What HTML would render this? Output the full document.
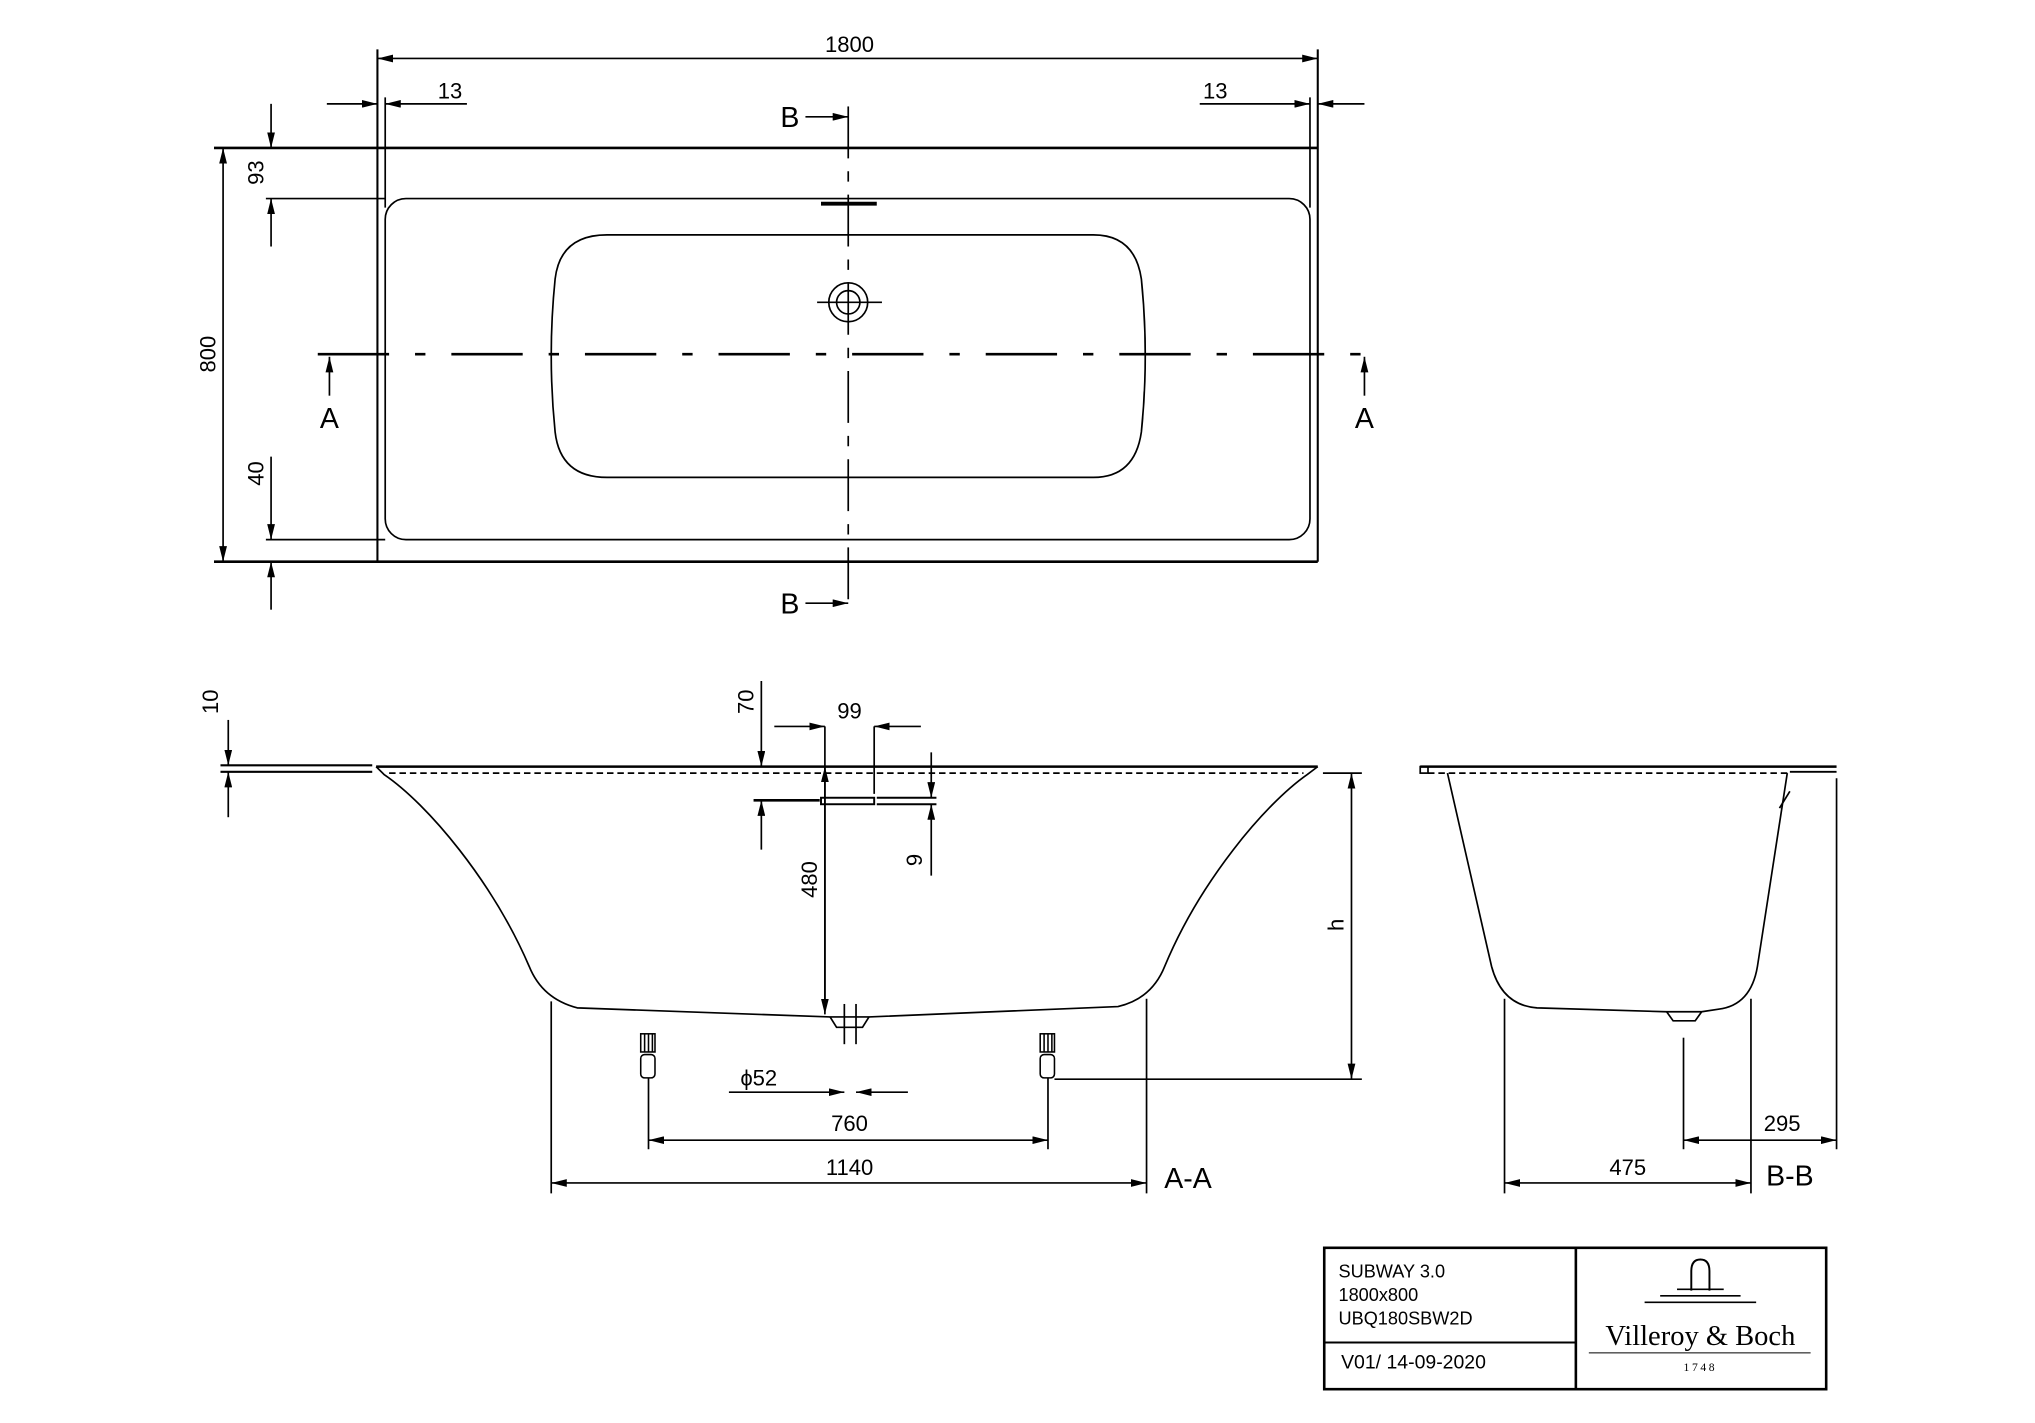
<!DOCTYPE html>
<html><head><meta charset="utf-8"><style>html,body{margin:0;padding:0;background:#fff}svg{display:block}</style></head><body>
<svg width="2035" height="1423" viewBox="0 0 1569 1097" xmlns="http://www.w3.org/2000/svg" font-family="Liberation Sans, sans-serif">
<defs>
<marker id="a" viewBox="0 0 12 6" refX="12" refY="3" markerWidth="12" markerHeight="6" orient="auto-start-reverse" markerUnits="userSpaceOnUse"><path d="M0,0 L12,3 L0,6 Z" fill="#000"/></marker>
</defs>
<g stroke="#000" fill="none" stroke-width="1.3">
<line x1="165" y1="114" x2="1016" y2="114" stroke-width="2"/>
<line x1="165" y1="433" x2="1016" y2="433" stroke-width="2"/>
<line x1="291" y1="38" x2="291" y2="433" stroke-width="1.6"/>
<line x1="1016" y1="38" x2="1016" y2="433" stroke-width="1.6"/>
<line x1="297" y1="75" x2="297" y2="160"/>
<line x1="1010" y1="75" x2="1010" y2="160"/>
<rect x="297" y="153" width="713" height="263" rx="16"/>
<path d="M468,181 L843,181 Q875,181 880,215 Q886,274 880,333 Q875,368 843,368 L468,368 Q432,368 428,333 Q422,274 428,215 Q432,181 468,181 Z"/>
<line x1="245" y1="273" x2="1065" y2="273" stroke-width="2" stroke-dasharray="55,20,8,20"/>
<line x1="654" y1="82" x2="654" y2="472" stroke-dasharray="40,10,8,10"/>
<line x1="633" y1="157" x2="676" y2="157" stroke-width="3"/>
<circle cx="654" cy="233" r="15"/><circle cx="654" cy="233" r="9"/>
<line x1="630" y1="233" x2="680" y2="233"/>
<line x1="291" y1="45" x2="1016" y2="45" marker-start="url(#a)" marker-end="url(#a)"/>
<line x1="252" y1="80" x2="291" y2="80" marker-end="url(#a)"/>
<line x1="360" y1="80" x2="297" y2="80" marker-end="url(#a)"/>
<line x1="925" y1="80" x2="1010" y2="80" marker-end="url(#a)"/>
<line x1="1052" y1="80" x2="1016" y2="80" marker-end="url(#a)"/>
<line x1="172" y1="114" x2="172" y2="433" marker-start="url(#a)" marker-end="url(#a)"/>
<line x1="209" y1="80" x2="209" y2="114" marker-end="url(#a)"/>
<line x1="209" y1="190" x2="209" y2="153" marker-end="url(#a)"/>
<line x1="205" y1="153" x2="297" y2="153"/>
<line x1="209" y1="352" x2="209" y2="416" marker-end="url(#a)"/>
<line x1="209" y1="470" x2="209" y2="433" marker-end="url(#a)"/>
<line x1="205" y1="416" x2="297" y2="416"/>
<line x1="254" y1="305" x2="254" y2="275" marker-end="url(#a)"/>
<line x1="1052" y1="305" x2="1052" y2="275" marker-end="url(#a)"/>
<line x1="621" y1="90" x2="654" y2="90" marker-end="url(#a)"/>
<line x1="621" y1="465" x2="654" y2="465" marker-end="url(#a)"/>
<line x1="170" y1="590" x2="287" y2="590" stroke-width="1.6"/>
<line x1="170" y1="595" x2="287" y2="595" stroke-width="1.6"/>
<line x1="290" y1="591" x2="1016" y2="591" stroke-width="2"/>
<line x1="300" y1="596" x2="1005" y2="596" stroke-dasharray="5,3"/>
<path d="M290,591 L296,597 C330,620 380,680 408,745 Q418,770 445,777 L640,784 L670,784 L862,776 Q888,770 898,745 C925,680 975,620 1008,597 L1016,591"/>
<path d="M640,784 L645,792 L665,792 L670,784"/>
<line x1="651" y1="774" x2="651" y2="805"/><line x1="660" y1="774" x2="660" y2="805"/>
<g stroke-width="1.2">
<rect x="494" y="797" width="11" height="14"/><rect x="494" y="813" width="11" height="18" rx="3"/>
<line x1="497" y1="797" x2="497" y2="811"/><line x1="500" y1="797" x2="500" y2="811"/><line x1="503" y1="797" x2="503" y2="811"/>
<rect x="802" y="797" width="11" height="14"/><rect x="802" y="813" width="11" height="18" rx="3"/>
<line x1="805" y1="797" x2="805" y2="811"/><line x1="808" y1="797" x2="808" y2="811"/><line x1="811" y1="797" x2="811" y2="811"/>
</g>
<line x1="176" y1="555" x2="176" y2="590" marker-end="url(#a)"/>
<line x1="176" y1="630" x2="176" y2="595" marker-end="url(#a)"/>
<line x1="587" y1="525" x2="587" y2="591" marker-end="url(#a)"/>
<line x1="587" y1="655" x2="587" y2="617" marker-end="url(#a)"/>
<line x1="581" y1="617" x2="632" y2="617" stroke-width="2"/>
<rect x="633" y="615" width="41" height="5" stroke-width="1.5"/>
<line x1="676" y1="615" x2="722" y2="615" stroke-width="1.5"/><line x1="676" y1="620" x2="722" y2="620" stroke-width="1.5"/>
<line x1="636" y1="560" x2="636" y2="778"/>
<line x1="636" y1="591" x2="636" y2="782" marker-start="url(#a)" marker-end="url(#a)"/>
<line x1="674" y1="560" x2="674" y2="612"/>
<line x1="597" y1="560" x2="636" y2="560" marker-end="url(#a)"/>
<line x1="710" y1="560" x2="674" y2="560" marker-end="url(#a)"/>
<line x1="718" y1="580" x2="718" y2="615" marker-end="url(#a)"/>
<line x1="718" y1="675" x2="718" y2="620" marker-end="url(#a)"/>
<line x1="1020" y1="596" x2="1050" y2="596"/>
<line x1="813" y1="832" x2="1050" y2="832"/>
<line x1="1042" y1="596" x2="1042" y2="832" marker-start="url(#a)" marker-end="url(#a)"/>
<line x1="562" y1="842" x2="651" y2="842" marker-end="url(#a)"/>
<line x1="700" y1="842" x2="660" y2="842" marker-end="url(#a)"/>
<line x1="500" y1="831" x2="500" y2="886"/><line x1="808" y1="831" x2="808" y2="886"/>
<line x1="500" y1="879" x2="808" y2="879" marker-start="url(#a)" marker-end="url(#a)"/>
<line x1="425" y1="772" x2="425" y2="920"/><line x1="884" y1="770" x2="884" y2="920"/>
<line x1="425" y1="912" x2="884" y2="912" marker-start="url(#a)" marker-end="url(#a)"/>
<line x1="1095" y1="591" x2="1416" y2="591" stroke-width="2"/>
<line x1="1380" y1="595" x2="1416" y2="595" stroke-width="1.5"/>
<rect x="1095" y="591" width="6" height="5"/>
<line x1="1101" y1="596" x2="1380" y2="596" stroke-dasharray="5,3"/>
<path d="M1116,596 L1150,745 Q1158,775 1185,777 L1285,780 L1312,780 L1325,778 Q1350,775 1355,745 L1378,596"/>
<path d="M1285,780 L1290,787 L1307,787 L1312,780"/>
<line x1="1372" y1="623" x2="1380" y2="610"/>
<line x1="1160" y1="770" x2="1160" y2="920"/><line x1="1350" y1="770" x2="1350" y2="920"/>
<line x1="1298" y1="800" x2="1298" y2="886"/><line x1="1416" y1="600" x2="1416" y2="886"/>
<line x1="1160" y1="912" x2="1350" y2="912" marker-start="url(#a)" marker-end="url(#a)"/>
<line x1="1298" y1="879" x2="1416" y2="879" marker-start="url(#a)" marker-end="url(#a)"/>
<rect x="1021" y="962" width="387" height="109" stroke-width="2"/>
<line x1="1215" y1="962" x2="1215" y2="1071" stroke-width="2"/>
<line x1="1021" y1="1035" x2="1215" y2="1035" stroke-width="1.5"/>
<path d="M1304,995 L1304,980 Q1304,971 1311,971 Q1318,971 1318,980 L1318,995" stroke-width="1.5"/>
<line x1="1293" y1="994" x2="1329" y2="994"/>
<line x1="1280" y1="999" x2="1342" y2="999"/>
<line x1="1268" y1="1004" x2="1354" y2="1004"/>
<line x1="1225" y1="1043" x2="1396" y2="1043" stroke-width="0.8"/>
</g>
<g font-size="17" fill="#000" text-anchor="middle">
<text x="655" y="40">1800</text>
<text x="347" y="76">13</text>
<text x="937" y="76">13</text>
<text x="609" y="98" font-size="22">B</text>
<text x="609" y="473" font-size="22">B</text>
<text x="254" y="330" font-size="22">A</text>
<text x="1052" y="330" font-size="22">A</text>
<text transform="translate(166,273) rotate(-90)">800</text>
<text transform="translate(203,133) rotate(-90)">93</text>
<text transform="translate(203,365) rotate(-90)">40</text>
<text transform="translate(168,541) rotate(-90)">10</text>
<text transform="translate(581,541) rotate(-90)">70</text>
<text x="655" y="554">99</text>
<text transform="translate(630,678) rotate(-90)">480</text>
<text transform="translate(711,663) rotate(-90)">9</text>
<text transform="translate(1036,713) rotate(-90)">h</text>
<text x="585" y="837">ϕ52</text>
<text x="655" y="872">760</text>
<text x="655" y="906">1140</text>
<text x="916" y="916" font-size="22">A-A</text>
<text x="1255" y="906">475</text>
<text x="1374" y="872">295</text>
<text x="1380" y="914" font-size="22">B-B</text>
</g>
<g font-size="14" fill="#000">
<text x="1032" y="985">SUBWAY 3.0</text>
<text x="1032" y="1003">1800x800</text>
<text x="1032" y="1021">UBQ180SBW2D</text>
<text x="1034" y="1055" font-size="15">V01/ 14-09-2020</text>
<text x="1311" y="1037" text-anchor="middle" font-family="Liberation Serif, serif" font-size="22">Villeroy &amp; Boch</text>
<text x="1311" y="1057" text-anchor="middle" font-family="Liberation Serif, serif" font-size="9" letter-spacing="2">1748</text>
</g>
</svg>
</body></html>
